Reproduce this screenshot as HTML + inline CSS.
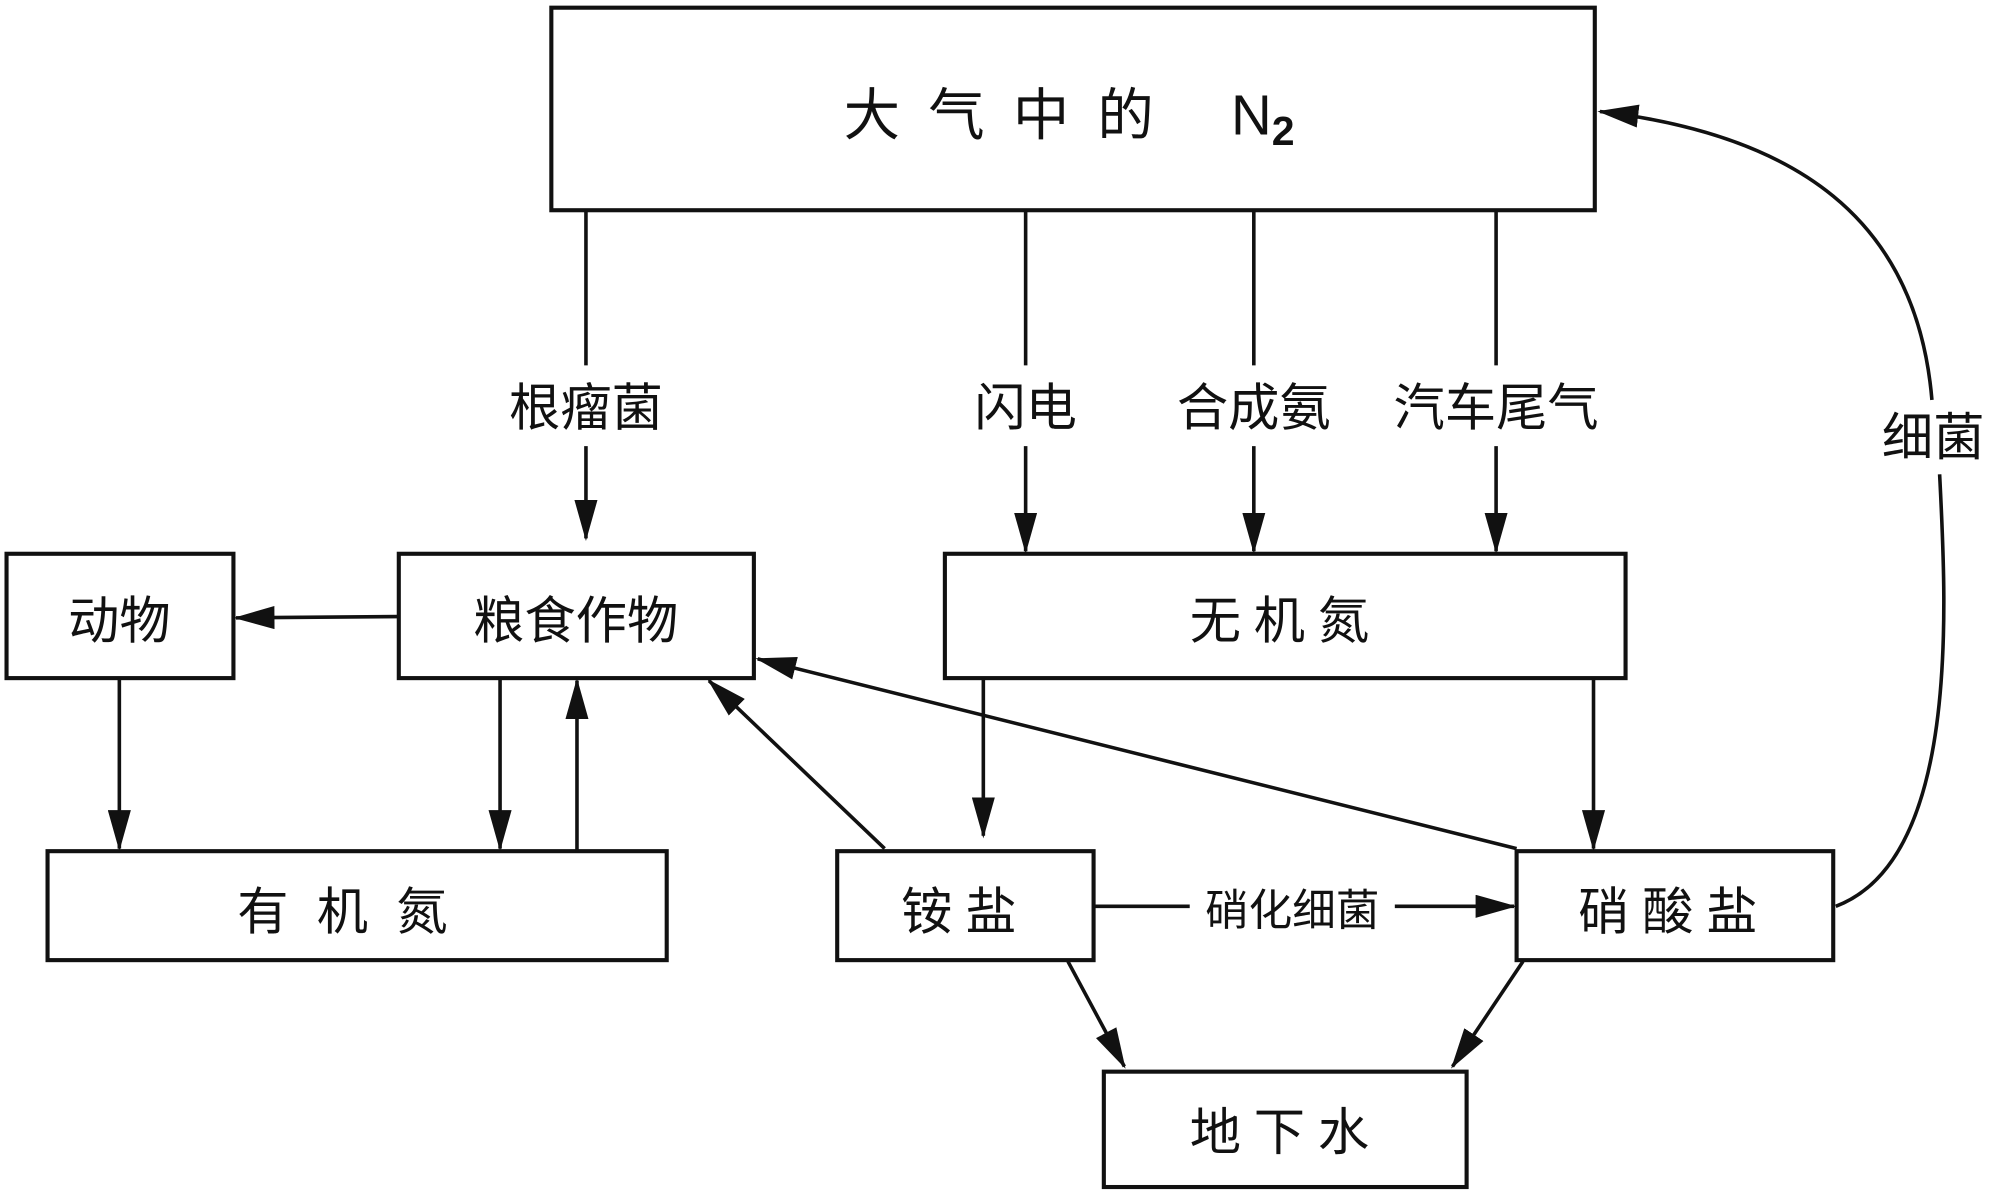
<!DOCTYPE html>
<html><head><meta charset="utf-8"><style>
html,body{margin:0;padding:0;background:#fff;}
svg{display:block;}
text{font-family:"Liberation Sans","Noto Sans CJK SC",sans-serif;fill:#111;}
</style></head><body>
<svg width="2000" height="1196" viewBox="0 0 1560 933" xmlns="http://www.w3.org/2000/svg">
<defs>
<marker id="a" markerWidth="32" markerHeight="18" refX="30" refY="9" orient="auto" markerUnits="userSpaceOnUse">
<path d="M0,0 L32,9 L0,18 Z" fill="#111"/>
</marker>
</defs>
<g fill="none" stroke="#111" stroke-width="3.2">
<rect x="430" y="6" width="814" height="158"/>
<rect x="737" y="432" width="531" height="97"/>
<rect x="311" y="432" width="277" height="97"/>
<rect x="5" y="432" width="177" height="97"/>
<rect x="37" y="664" width="483" height="85"/>
<rect x="653" y="664" width="200" height="85"/>
<rect x="1183" y="664" width="247" height="85"/>
<rect x="861" y="836" width="283" height="90"/>
</g>
<g stroke="#111" stroke-width="2.8" fill="none">
<line x1="457" y1="164" x2="457" y2="285"/>
<line x1="457" y1="348" x2="457" y2="420" marker-end="url(#a)"/>
<line x1="800" y1="164" x2="800" y2="285"/>
<line x1="800" y1="348" x2="800" y2="430" marker-end="url(#a)"/>
<line x1="978" y1="164" x2="978" y2="285"/>
<line x1="978" y1="348" x2="978" y2="430" marker-end="url(#a)"/>
<line x1="1167" y1="164" x2="1167" y2="285"/>
<line x1="1167" y1="348" x2="1167" y2="430" marker-end="url(#a)"/>
<line x1="311" y1="481" x2="184" y2="482" marker-end="url(#a)"/>
<line x1="93" y1="529" x2="93" y2="662" marker-end="url(#a)"/>
<line x1="390" y1="529" x2="390" y2="662" marker-end="url(#a)"/>
<line x1="450" y1="664" x2="450" y2="531" marker-end="url(#a)"/>
<line x1="767" y1="529" x2="767" y2="652" marker-end="url(#a)"/>
<line x1="1243" y1="529" x2="1243" y2="662" marker-end="url(#a)"/>
<line x1="690" y1="662" x2="553" y2="531" marker-end="url(#a)"/>
<line x1="1183" y1="662" x2="591" y2="514" marker-end="url(#a)"/>
<line x1="853" y1="707" x2="928" y2="707"/>
<line x1="1088" y1="707" x2="1181" y2="707" marker-end="url(#a)"/>
<line x1="833" y1="750" x2="877" y2="832" marker-end="url(#a)"/>
<line x1="1188" y1="750" x2="1133" y2="832" marker-end="url(#a)"/>
<path d="M1432,707 C1530,670 1518,470 1513,370"/>
<path d="M1507,312 C1495,170 1400,105 1248,87" marker-end="url(#a)"/>
</g>
<g font-size="40" text-anchor="middle">
<text x="790" y="105" font-size="44" letter-spacing="22">大气中的</text>
<text x="985" y="105" font-size="44">N<tspan font-size="32" font-weight="bold" dy="8">2</tspan></text>
<text x="457" y="332">根瘤菌</text>
<text x="800" y="332">闪电</text>
<text x="978" y="332">合成氨</text>
<text x="1167" y="332">汽车尾气</text>
<text x="1508" y="355">细菌</text>
<text x="1003" y="498" letter-spacing="10">无机氮</text>
<text x="449" y="498">粮食作物</text>
<text x="93" y="498">动物</text>
<text x="278" y="725" letter-spacing="22">有机氮</text>
<text x="753" y="725" letter-spacing="10">铵盐</text>
<text x="1306" y="725" letter-spacing="10">硝酸盐</text>
<text x="1008" y="722" font-size="34">硝化细菌</text>
<text x="1003" y="897" letter-spacing="10">地下水</text>
</g>
</svg>
</body></html>
